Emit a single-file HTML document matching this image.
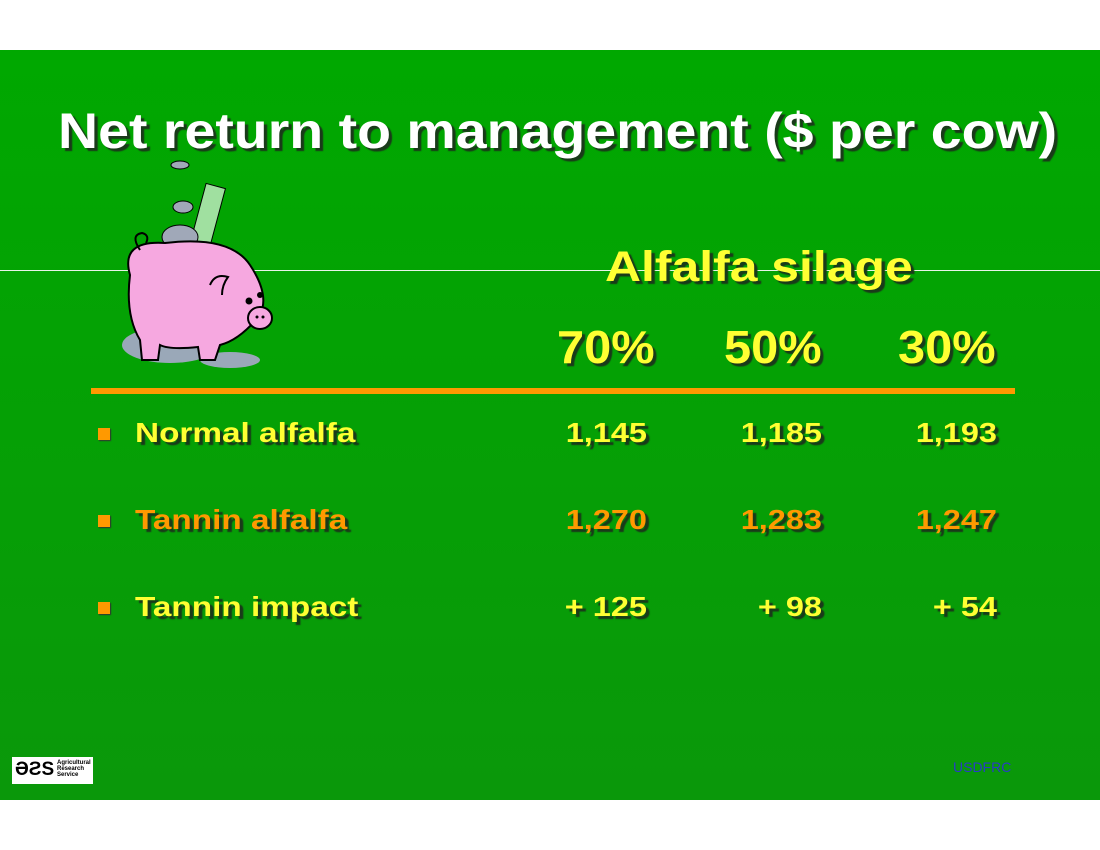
<!DOCTYPE html>
<html><head><meta charset="utf-8"><style>
body{margin:0;width:1100px;height:850px;background:#fff;position:relative;overflow:hidden;font-family:"Liberation Sans",sans-serif;font-weight:bold}
#slide{position:absolute;left:0;top:50px;width:1100px;height:750px;background:linear-gradient(#00a800,#0a980a)}
.t{position:absolute;white-space:nowrap;text-shadow:3px 3px 1px #1a3a1a;transform-origin:left center}
.y{color:#ffff33}.o{color:#ff9900}
.num{position:absolute;width:140px;text-align:right;font-size:28px;white-space:nowrap;text-shadow:3px 3px 1px #1a3a1a;transform:scaleX(1.16);transform-origin:right center}
.b{position:absolute;left:98px;width:12px;height:12px;background:#ff9900;box-shadow:1px 1px 1px #333}
.row{font-size:28px;transform:scaleX(1.19)}
.pc{font-size:46px;transform:scaleX(1.06)}
</style></head><body>
<div id="slide"></div>
<div style="position:absolute;left:0;top:270px;width:1100px;height:1px;background:#e8f5e8"></div>
<div class="t" style="left:58px;top:102px;font-size:50px;color:#fff;transform:scaleX(1.11)">Net return to management ($ per cow)</div>
<svg style="position:absolute;left:110px;top:155px" width="170" height="230" viewBox="0 0 170 230">
<ellipse cx="60" cy="190" rx="48" ry="18" fill="#9aa8b8"/>
<ellipse cx="120" cy="205" rx="30" ry="8" fill="#9aa8b8"/>
<ellipse cx="70" cy="10" rx="9" ry="4" fill="#a0a8b8" stroke="#000"/>
<rect x="88" y="30" width="20" height="60" fill="#a0e0a0" stroke="#000" transform="rotate(15 98 60)"/>
<ellipse cx="73" cy="52" rx="10" ry="6" fill="#a0a8b8" stroke="#000"/>
<ellipse cx="70" cy="82" rx="18" ry="12" fill="#a0a8b8" stroke="#000"/>
<path d="M20 120 Q10 85 55 88 Q120 80 140 110 Q160 140 150 160 Q130 185 110 190 L105 205 L90 205 L88 192 Q60 195 50 190 L48 205 L32 205 L30 185 Q15 160 20 120Z" fill="#f6a8e0" stroke="#000" stroke-width="2"/>
<path d="M30 95 Q20 80 32 78 Q40 80 36 88" fill="none" stroke="#000" stroke-width="2"/>
<ellipse cx="150" cy="163" rx="12" ry="11" fill="#f6a8e0" stroke="#000" stroke-width="2"/>
<circle cx="147" cy="162" r="1.5"/><circle cx="153" cy="162" r="1.5"/>
<circle cx="139" cy="146" r="3.5"/><circle cx="150" cy="140" r="3"/>
<path d="M100 130 Q105 118 118 122 Q112 130 112 140" fill="none" stroke="#000" stroke-width="2"/>
</svg>
<div class="t y" style="left:605px;top:243px;font-size:43px;transform:scaleX(1.16)">Alfalfa silage</div>
<div class="t y pc" style="left:557px;top:320px">70%</div>
<div class="t y pc" style="left:724px;top:320px">50%</div>
<div class="t y pc" style="left:898px;top:320px">30%</div>
<div style="position:absolute;left:91px;top:388px;width:924px;height:6px;background:#ff9900"></div>

<div class="b" style="top:428px"></div>
<div class="t y row" style="left:135px;top:417px">Normal alfalfa</div>
<div class="num y" style="left:507px;top:417px">1,145</div>
<div class="num y" style="left:682px;top:417px">1,185</div>
<div class="num y" style="left:857px;top:417px">1,193</div>

<div class="b" style="top:515px"></div>
<div class="t o row" style="left:135px;top:504px">Tannin alfalfa</div>
<div class="num o" style="left:507px;top:504px">1,270</div>
<div class="num o" style="left:682px;top:504px">1,283</div>
<div class="num o" style="left:857px;top:504px">1,247</div>

<div class="b" style="top:602px"></div>
<div class="t y row" style="left:135px;top:591px">Tannin impact</div>
<div class="num y" style="left:507px;top:591px">+ 125</div>
<div class="num y" style="left:682px;top:591px">+ 98</div>
<div class="num y" style="left:857px;top:591px">+ 54</div>

<div style="position:absolute;left:12px;top:757px;width:81px;height:27px;background:#fff">
<span style="position:absolute;left:3px;top:2px;font-size:19px;color:#000;font-weight:bold">ƏƧS</span>
<span style="position:absolute;left:45px;top:3px;font-size:6px;line-height:6px;color:#000">Agricultural<br>Research<br>Service</span>
</div>
<div style="position:absolute;left:953px;top:759px;font-size:14px;font-weight:normal;color:#2a3ac8">USDFRC</div>
</body></html>
